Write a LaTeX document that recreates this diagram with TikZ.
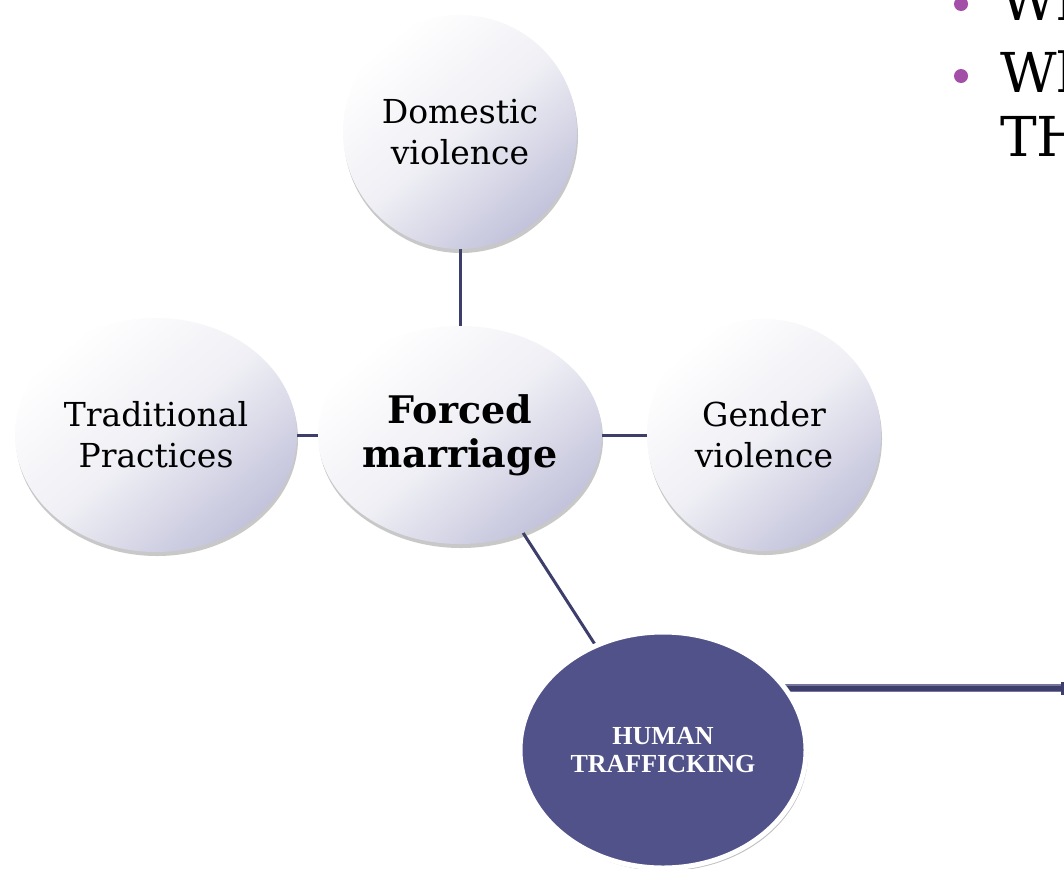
\documentclass[tikz,border=0pt]{standalone}
\usepackage{fontspec}
\setmainfont{DejaVu Serif}
\newfontfamily\tnrfont{Liberation Serif}
\usetikzlibrary{shapes.geometric,shadows,backgrounds,arrows.meta}
\definecolor{bubtop}{HTML}{FFFFFF}
\definecolor{bubmid}{HTML}{EFEFF5}
\definecolor{bubbot}{HTML}{C2C2DB}
\definecolor{linkcol}{HTML}{3E3E6C}
\definecolor{arrowedge}{HTML}{75759C}
\definecolor{htfill}{HTML}{52528A}
\definecolor{bulletcol}{HTML}{A34FA8}
\tikzset{
  bubble/.style={ellipse, inner sep=0pt, top color=bubtop, bottom color=bubbot,
    middle color=bubmid, shading angle=40,
    drop shadow={shadow xshift=1pt, shadow yshift=-4pt, opacity=0.3, fill=black!70},
    align=center, font=\fontsize{33}{41}\selectfont},
  boldbubble/.style={bubble, font=\bfseries\fontsize{38}{44}\selectfont},
  htbubble/.style={ellipse, inner sep=0pt, fill=htfill, draw=white, line width=5pt,
    drop shadow={shadow xshift=2pt, shadow yshift=-3pt, opacity=0.35, fill=black!70},
    align=center, text=white, font=\tnrfont\bfseries\fontsize{26}{28}\selectfont},
  link/.style={draw=linkcol, line width=3pt},
  bigtext/.style={anchor=base west, inner sep=0pt, font=\fontsize{55}{64}\selectfont},
  bulletdot/.style={circle, fill=bulletcol, minimum size=14pt, inner sep=0pt}
}
\begin{document}
\begin{tikzpicture}[x=1pt,y=-1pt]
\useasboundingbox (0,0) rectangle (1064,868);
\begin{scope}
\clip (0,0) rectangle (1064,868);
% bubbles
\node[bubble, minimum width=234pt, minimum height=234pt] (dom) at (460,132) {Domestic\\violence};
\node[bubble, minimum width=282pt, minimum height=234pt] (trad) at (156,435) {Traditional\\Practices};
\node[boldbubble, minimum width=284pt, minimum height=218pt] (fm) at (460,435) {Forced\\marriage};
\node[bubble, minimum width=234pt, minimum height=232pt] (gen) at (764,435) {Gender\\violence};
\node[htbubble, minimum width=286pt, minimum height=236pt] (ht) at (663,750) {HUMAN\\TRAFFICKING};
\coordinate (arrowend) at (1064,688);
% top-right text
\node[bulletdot] (b1) at (961,4) {};
\node[bulletdot] (b2) at (961,76) {};
\node[bigtext] (t1) at (1000,20) {Wh};
\node[bigtext] (t2) at (1000,92) {Wh};
\node[bigtext] (t3) at (1000,156) {TH};
\end{scope}
\begin{scope}[on background layer]
\fill[white] (0,0) rectangle (1064,868);
\draw[link] (dom) -- (fm);
\draw[link] (trad) -- (fm);
\draw[link] (fm) -- (gen);
\draw[link] (fm) -- (ht);
\draw[draw=arrowedge, line width=8pt] (arrowend -| ht.center) -- (arrowend);
\draw[draw=linkcol, line width=5pt, -{Rectangle[length=3pt,width=13pt]}] (arrowend -| ht.center) -- (arrowend);
\end{scope}
\end{tikzpicture}
\end{document}
